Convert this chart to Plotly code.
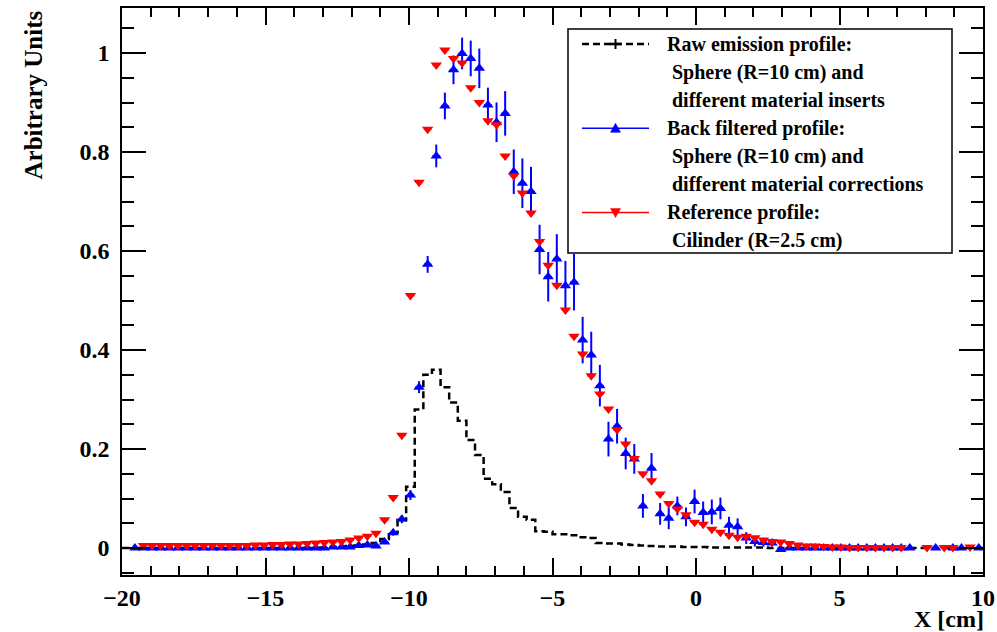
import plotly.graph_objects as go

# ---------------- data ----------------
BIN_LO, BIN_W, N_BINS = -20.0, 0.3, 100
bin_edges = [round(BIN_LO + BIN_W * k, 2) for k in range(N_BINS + 1)]
bin_centers = [round(BIN_LO + BIN_W * (k + 0.5), 2) for k in range(N_BINS)]

raw_emission = (
    [0.0] * 23 +
    [0.001, 0.002, 0.003, 0.004, 0.005, 0.007, 0.010, 0.018, 0.031, 0.057,
     0.124, 0.280, 0.350, 0.360, 0.325, 0.294, 0.257, 0.218, 0.188, 0.140,
     0.129, 0.113, 0.081, 0.063, 0.057, 0.034, 0.033, 0.028, 0.028, 0.026,
     0.022, 0.020, 0.010, 0.009, 0.009, 0.007, 0.006, 0.005, 0.004, 0.003,
     0.003, 0.003, 0.002, 0.002, 0.002, 0.001] +
    [0.001] * 6 + [0.0] * 25
)

reference = (
    [None, None] +
    [0.005] * 13 +
    [0.006, 0.006, 0.007, 0.007, 0.008, 0.008, 0.009, 0.010, 0.011, 0.012, 0.013] +
    [0.016, 0.020, 0.024, 0.030, 0.057, 0.102, 0.228, 0.510, 0.739, 0.846,
     0.976, 1.006, 0.989, 0.980, 0.930, 0.900, 0.863, 0.855, 0.792, 0.752,
     0.717, 0.677, 0.619, 0.571, 0.531, 0.481, 0.428, 0.392, 0.348, 0.311,
     0.281, 0.239, 0.210, 0.181, 0.150, 0.136, 0.109, 0.090, 0.079, 0.067,
     0.052, 0.048, 0.038, 0.032, 0.026, 0.022, 0.024, 0.021, 0.016, 0.013,
     0.012, 0.009, 0.006, 0.004, 0.004, 0.003, 0.002, 0.002, 0.001, 0.001,
     0.001, 0.001, 0.001, 0.001, 0.001, None, None, 0.001, None, 0.001,
     0.001, None, 0.002]
)
reference_err = [0.003] * N_BINS

back_filtered = (
    [None] +
    [0.0] * 23 +
    [0.002, 0.002, 0.002, 0.005, 0.006, 0.004, 0.012, 0.031, 0.058, 0.107,
     0.325, 0.573, 0.792, 0.893, 0.966, 0.999, 0.989, 0.969, 0.895, 0.860,
     0.878, 0.760, 0.737, 0.720, 0.603, 0.548, 0.584, 0.530, 0.537, 0.420,
     0.390, 0.328, 0.220, 0.246, 0.191, 0.180, 0.085, 0.161, 0.069, 0.060,
     0.085, 0.063, 0.094, 0.072, 0.073, 0.080, 0.046, 0.043, 0.020, 0.013,
     0.011, 0.010, -0.003, 0.0] +
    [0.0] * 14 +
    [None, None, 0.0, None, 0.0, 0.0, None, 0.0]
)
back_filtered_err = (
    [0.003] * 30 +
    [0.004, 0.006, 0.008, 0.010, 0.012, 0.017, 0.023, 0.027, 0.029, 0.032,
     0.036, 0.040, 0.035, 0.040, 0.045, 0.045, 0.050, 0.050, 0.050, 0.050,
     0.050, 0.050, 0.057, 0.047, 0.047, 0.042, 0.035, 0.035, 0.032, 0.030,
     0.024, 0.031, 0.022, 0.022, 0.019, 0.019, 0.024, 0.022, 0.025, 0.022,
     0.017, 0.017, 0.012, 0.010, 0.008, 0.007] +
    [0.003] * 24
)

x_ticks = [-20, -15, -10, -5, 0, 5, 10]
y_ticks = [0, 0.2, 0.4, 0.6, 0.8, 1]

legend_lines = [
    ("Raw emission profile:", True),
    (" Sphere (R=10 cm) and", False),
    (" different material inserts", False),
    ("Back filtered profile:", True),
    (" Sphere (R=10 cm) and", False),
    (" different material corrections", False),
    ("Reference profile:", True),
    (" Cilinder (R=2.5 cm)", False),
]

# ---------------- style / layout constants ----------------
W, H = 997, 632
PL, PR, PT, PB = 122, 983, 8, 575
FONT = "Liberation Serif"
BLUE, RED, BLACK = "#0000ff", "#ff0000", "#000000"


def px(x):
    return (x - PL) / (PR - PL)


def py(y):
    return (PB - y) / (PB - PT)


fig = go.Figure()

# raw emission histogram (steps over bin edges)
fig.add_trace(go.Scatter(
    x=bin_edges, y=raw_emission + [raw_emission[-1]],
    mode="lines", line=dict(color=BLACK, width=2.5, dash="7px,4px", shape="hv"),
    showlegend=False, hoverinfo="skip"))

fig.add_trace(go.Scatter(
    x=bin_centers, y=back_filtered, mode="markers",
    marker=dict(symbol="triangle-up", size=10, color=BLUE),
    error_y=dict(type="data", array=back_filtered_err, color=BLUE, thickness=2, width=0),
    error_x=dict(type="constant", value=BIN_W / 2 * 0.9, color=BLUE, thickness=1.5, width=0),
    showlegend=False))

fig.add_trace(go.Scatter(
    x=bin_centers, y=reference, mode="markers",
    marker=dict(symbol="triangle-down", size=10, color=RED),
    error_y=dict(type="data", array=reference_err, color=RED, thickness=1.5, width=0),
    error_x=dict(type="constant", value=BIN_W / 2 * 0.9, color=RED, thickness=1.5, width=0),
    showlegend=False))

shapes = []
annotations = []

# legend box
LB_L, LB_R, LB_T, LB_B = 568, 952, 29, 253
shapes.append(dict(type="rect", xref="paper", yref="paper",
                   x0=px(LB_L), x1=px(LB_R), y0=py(LB_B), y1=py(LB_T),
                   line=dict(color=BLACK, width=1.5), fillcolor="white", layer="above"))

row_y = [44 + 28.1 * k for k in range(len(legend_lines))]
for (txt, header), yy in zip(legend_lines, row_y):
    annotations.append(dict(xref="paper", yref="paper", x=px(665), y=py(yy),
                            xanchor="left", yanchor="middle", showarrow=False,
                            text=txt.replace(" ", "&nbsp;", 1) if txt.startswith(" ") else txt,
                            font=dict(family=FONT, size=20, color=BLACK, weight="bold")))

SL, SR, SC = 582, 649, 615.5
# raw sample: dashed with a cross
shapes.append(dict(type="line", xref="paper", yref="paper", x0=px(SL), x1=px(SR),
                   y0=py(row_y[0]), y1=py(row_y[0]),
                   line=dict(color=BLACK, width=2.5, dash="7px,4px"), layer="above"))
shapes.append(dict(type="line", xref="paper", yref="paper", x0=px(SC), x1=px(SC),
                   y0=py(row_y[0] - 5), y1=py(row_y[0] + 5),
                   line=dict(color=BLACK, width=2), layer="above"))
shapes.append(dict(type="line", xref="paper", yref="paper", x0=px(SC - 6), x1=px(SC + 6),
                   y0=py(row_y[0]), y1=py(row_y[0]),
                   line=dict(color=BLACK, width=2.5), layer="above"))
# blue / red samples
for idx, col, up in ((3, BLUE, True), (6, RED, False)):
    yy = row_y[idx]
    shapes.append(dict(type="line", xref="paper", yref="paper", x0=px(SL), x1=px(SR),
                       y0=py(yy), y1=py(yy), line=dict(color=col, width=1.5), layer="above"))
    path = "M-5,-4 L5,-4 L0,5 Z" if up else "M-5,4 L5,4 L0,-5 Z"
    shapes.append(dict(type="path", xref="paper", yref="paper",
                       xsizemode="pixel", ysizemode="pixel",
                       xanchor=px(SC), yanchor=py(yy), path=path,
                       fillcolor=col, line=dict(color=col, width=0.5), layer="above"))

# axis titles
annotations.append(dict(xref="paper", yref="paper", x=px(33), y=py(9),
                        xanchor="center", yanchor="top", textangle=-90, showarrow=False,
                        text="Arbitrary Units",
                        font=dict(family=FONT, size=25, color=BLACK, weight="bold")))
annotations.append(dict(xref="paper", yref="paper", x=px(986), y=py(619),
                        xanchor="right", yanchor="middle", showarrow=False,
                        text="X [cm]",
                        font=dict(family=FONT, size=24, color=BLACK, weight="bold")))

axis_common = dict(showgrid=False, zeroline=False, showline=True, linecolor=BLACK,
                   linewidth=1.5, mirror="ticks", ticks="inside", tickcolor=BLACK,
                   tickwidth=1.5, automargin=False,
                   tickfont=dict(family=FONT, size=24, color=BLACK, weight="bold"))

fig.update_layout(
    width=W, height=H,
    margin=dict(l=PL, r=W - PR, t=PT, b=H - PB, pad=0, autoexpand=False),
    paper_bgcolor="white", plot_bgcolor="white",
    font=dict(family=FONT, size=24, color=BLACK, weight="bold"),
    xaxis=dict(range=[-20, 10], tickvals=x_ticks, ticklen=17,
               minor=dict(dtick=1, ticklen=9, ticks="inside", tickcolor=BLACK, tickwidth=1.5),
               **axis_common),
    yaxis=dict(range=[-0.0545, 1.0909], tickvals=y_ticks, ticklen=24,
               ticklabelstandoff=6,
               minor=dict(dtick=0.05, ticklen=12, ticks="inside", tickcolor=BLACK, tickwidth=1.5),
               **axis_common),
    shapes=shapes, annotations=annotations, showlegend=False,
)

fig.write_html("out.html")
